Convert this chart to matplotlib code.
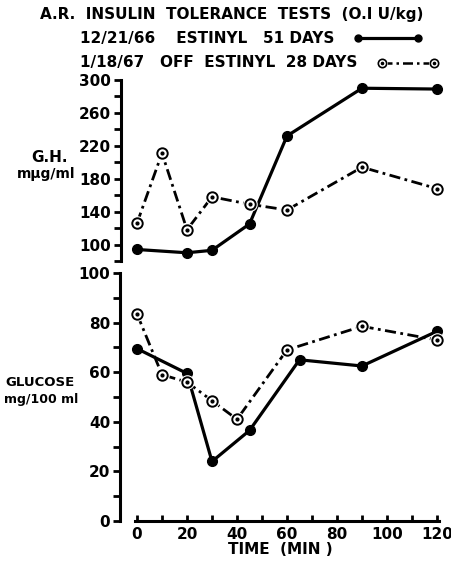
import numpy as np
import matplotlib
matplotlib.use('Agg')
import matplotlib.pyplot as plt
from matplotlib.lines import Line2D

# growth hormone, mug/ml
gh_time_on = [0, 20, 30, 45, 60, 90, 120]
gh_on = [94, 90, 93, 125, 232, 290, 289]
gh_time_off = [0, 10, 20, 30, 45, 60, 90, 120]
gh_off = [126, 211, 118, 158, 149, 142, 194, 168]

# glucose, mg/100 ml
glu_time_on = [0, 20, 30, 45, 65, 90, 120]
glu_on = [69.5, 59.5, 24, 36.5, 65, 62.5, 76.5]
glu_time_off = [0, 10, 20, 30, 40, 60, 90, 120]
glu_off = [83.5, 59, 56, 48.5, 41, 69, 78.5, 73]

W, H = 452, 561
plt.rcParams['font.family'] = 'DejaVu Sans'
plt.rcParams['font.weight'] = 'bold'

fig = plt.figure(figsize=(W / 100, H / 100), dpi=100)

def fx(x):
	return x / W

def fy(y):
	return 1 - y / H

DASH = (0, (4, 1.6, 1, 1.6))

def draw_series(ax, t_on, v_on, t_off, v_off):
	ax.plot(t_on, v_on, color='black', lw=2.3, marker='o', ms=7,
		mfc='black', mec='black', clip_on=False, zorder=3)
	ax.plot(t_off, v_off, color='black', lw=2.0, ls=DASH, clip_on=False, zorder=2)
	ax.plot(t_off, v_off, ls='none', marker='o', ms=10.5, mfc='white', mec='none',
		clip_on=False, zorder=4)
	ax.plot(t_off, v_off, ls='none', marker='o', ms=7.5, mfc='white', mec='black',
		mew=1.4, clip_on=False, zorder=5)
	ax.plot(t_off, v_off, ls='none', marker='o', ms=2, mfc='black', mec='black',
		clip_on=False, zorder=6)

def style_y(ax):
	for s in ['top', 'right', 'bottom']:
		ax.spines[s].set_visible(False)
	ax.spines['left'].set_linewidth(2.2)
	ax.tick_params(axis='y', direction='out', length=5, width=2, labelsize=11, pad=2)
	for lab in ax.get_yticklabels():
		lab.set_fontweight('bold')

# top panel: G.H.
ax1 = fig.add_axes([fx(121), fy(261), fx(440 - 121), (261 - 80) / H])
ax1.patch.set_alpha(0)
draw_series(ax1, gh_time_on, gh_on, gh_time_off, gh_off)
ax1.set_xlim(-6.4, 121.2)
ax1.set_ylim(80, 300)
ax1.set_xticks([])
yt = np.arange(80, 301, 20)
ax1.set_yticks(yt)
ax1.set_yticklabels([str(v) if (v - 100) % 40 == 0 and v >= 100 else '' for v in yt])
style_y(ax1)

# bottom panel: glucose
ax2 = fig.add_axes([fx(120), fy(521), fx(440 - 120), (521 - 273) / H])
ax2.patch.set_alpha(0)
draw_series(ax2, glu_time_on, glu_on, glu_time_off, glu_off)
ax2.set_xlim(-6.8, 121.2)
ax2.set_ylim(0, 100)
yt2 = np.arange(0, 101, 10)
ax2.set_yticks(yt2)
ax2.set_yticklabels([str(v) if v % 20 == 0 else '' for v in yt2])
style_y(ax2)
ax2.spines['bottom'].set_visible(True)
ax2.spines['bottom'].set_linewidth(2.2)
ax2.spines['bottom'].set_bounds(-0.8, 121)
xt = np.arange(0, 121, 10)
ax2.set_xticks(xt)
ax2.set_xticklabels([str(v) if v % 20 == 0 else '' for v in xt])
ax2.tick_params(axis='x', direction='in', length=4, width=2, labelsize=11, pad=4)
for lab in ax2.get_xticklabels():
	lab.set_fontweight('bold')
ax2.set_xlabel('TIME  (MIN )', fontsize=11, fontweight='bold', labelpad=0)

# axis titles
fig.text(fx(50), fy(158), 'G.H.', ha='center', va='center', fontsize=11, fontweight='bold')
fig.text(fx(46), fy(174), 'mμg/ml', ha='center', va='center', fontsize=10, fontweight='bold')
fig.text(fx(40), fy(383), 'GLUCOSE', ha='center', va='center', fontsize=9.5, fontweight='bold')
fig.text(fx(41), fy(400), 'mg/100 ml', ha='center', va='center', fontsize=9, fontweight='bold')

# heading
fig.text(fx(40), fy(14), 'A.R.  INSULIN  TOLERANCE  TESTS  (O.I U/kg)', ha='left', va='center',
	fontsize=11, fontweight='bold')
fig.text(fx(80), fy(38), '12/21/66    ESTINYL   51 DAYS', ha='left', va='center',
	fontsize=11, fontweight='bold')
fig.text(fx(80), fy(63), '1/18/67   OFF  ESTINYL  28 DAYS', ha='left', va='center',
	fontsize=11, fontweight='bold')

# key samples
fig.add_artist(Line2D([fx(358), fx(418)], [fy(38), fy(38)], color='black', lw=2.3,
	marker='o', ms=5, transform=fig.transFigure))
fig.add_artist(Line2D([fx(382), fx(434)], [fy(63), fy(63)], color='black', lw=1.8, ls=DASH,
	transform=fig.transFigure))
fig.add_artist(Line2D([fx(382), fx(434)], [fy(63), fy(63)], ls='none', marker='o', ms=8,
	mfc='white', mec='none', transform=fig.transFigure))
fig.add_artist(Line2D([fx(382), fx(434)], [fy(63), fy(63)], ls='none', marker='o', ms=6,
	mfc='white', mec='black', mew=1.2, transform=fig.transFigure))
fig.add_artist(Line2D([fx(382), fx(434)], [fy(63), fy(63)], ls='none', marker='o', ms=1.6,
	mfc='black', mec='black', transform=fig.transFigure))

fig.savefig('out.png', dpi=100)
